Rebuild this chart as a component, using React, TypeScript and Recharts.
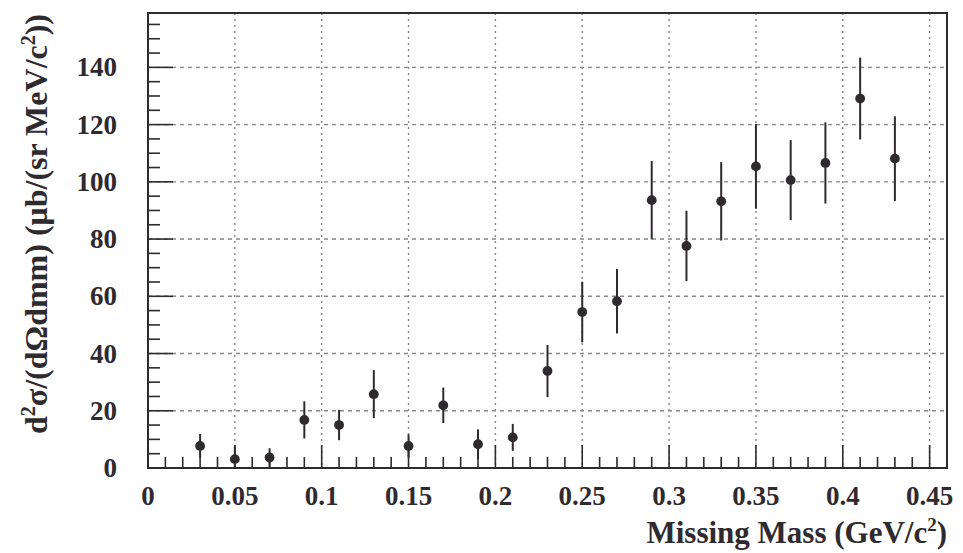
import { ScatterChart, Scatter, XAxis, YAxis, CartesianGrid, ErrorBar, ReferenceArea, Label } from "recharts"

// missing mass bins (GeV/c^2)
const massBins = [0.03, 0.05, 0.07, 0.09, 0.11, 0.13, 0.15, 0.17, 0.19, 0.21, 0.23, 0.25, 0.27, 0.29, 0.31, 0.33, 0.35, 0.37, 0.39, 0.41, 0.43]
// d2sigma/(dOmega dmm), ub/(sr MeV/c^2)
const crossSection = [7.7, 3.1, 3.7, 16.8, 15.0, 25.8, 7.7, 21.9, 8.3, 10.7, 33.9, 54.5, 58.3, 93.6, 77.6, 93.2, 105.4, 100.6, 106.6, 129.1, 108.1]
const crossSectionErr = [4.2, 4.5, 3.2, 6.5, 5.3, 8.4, 4.0, 6.2, 5.2, 4.7, 9.1, 10.6, 11.3, 13.7, 12.3, 13.7, 14.8, 14.0, 14.2, 14.3, 14.8]

const xMajorTicks = [0, 0.05, 0.1, 0.15, 0.2, 0.25, 0.3, 0.35, 0.4, 0.45]
const yMajorTicks = [0, 20, 40, 60, 80, 100, 120, 140]

const xAllTicks = Array.from({ length: 46 }, (_, i) => Number((i * 0.01).toFixed(2)))
const yAllTicks = Array.from({ length: 32 }, (_, i) => i * 5)

const data = massBins.map((x, i) => ({
  x,
  y: crossSection[i],
  err: [Math.min(crossSectionErr[i], crossSection[i]), crossSectionErr[i]],
}))

const ink = "#2e2a2e"
const gridColor = "#8c8290"
const font = "Liberation Serif, Times New Roman, DejaVu Serif, serif"

const isMajor = (v: number, list: number[]) => list.some((m) => Math.abs(m - v) < 1e-6)

const XTick = (props: any) => {
  const { x, y, payload } = props
  const major = isMajor(payload.value, xMajorTicks)
  return (
    <g>
      <line x1={x} x2={x} y1={y} y2={y - (major ? 23 : 11)} stroke={ink} strokeWidth={1.6} />
      {major && (
        <text x={x} y={y + 37} textAnchor="middle" fontFamily={font} fontWeight="bold" fontSize={27} fill={ink}>
          {String(payload.value)}
        </text>
      )}
    </g>
  )
}

const YTick = (props: any) => {
  const { x, y, payload } = props
  const major = isMajor(payload.value, yMajorTicks)
  return (
    <g>
      <line x1={x} x2={x + (major ? 25 : 12)} y1={y} y2={y} stroke={ink} strokeWidth={1.6} />
      {major && (
        <text x={x - 31} y={y + 9} textAnchor="end" fontFamily={font} fontWeight="bold" fontSize={27} fill={ink}>
          {String(payload.value)}
        </text>
      )}
    </g>
  )
}

const XTitle = (props: any) => {
  const vb = props.viewBox
  return (
    <text x={vb.x + vb.width} y={vb.y + 75} textAnchor="end" fontFamily={font} fontWeight="bold" fontSize={31} fill={ink}>
      Missing Mass (GeV/c
      <tspan dy={-12} fontSize={19}>2</tspan>
      <tspan dy={12}>)</tspan>
    </text>
  )
}

const YTitle = () => {
  const cx = 47
  const cy = 224
  return (
    <text
      x={cx}
      y={cy}
      transform={`rotate(-90, ${cx}, ${cy})`}
      textAnchor="middle"
      fontFamily={font}
      fontWeight="bold"
      fontSize={32}
      fill={ink}
    >
      d<tspan dy={-12} fontSize={20}>2</tspan>
      <tspan dy={12}>σ/(dΩdmm) (μb/(sr MeV/c</tspan>
      <tspan dy={-12} fontSize={20}>2</tspan>
      <tspan dy={12}>))</tspan>
    </text>
  )
}

export default function App() {
  return (
    <div style={{ position: "absolute", left: 0, top: 0, width: 963, height: 553, background: "#fff" }}>
      <ScatterChart width={963} height={553} margin={{ top: 13, right: 16, bottom: 0, left: 0 }}>
        <CartesianGrid
          horizontal={false}
          verticalValues={xMajorTicks.slice(1)}
          stroke={gridColor}
          strokeDasharray="2 4"
          strokeWidth={1.4}
        />
        <CartesianGrid
          vertical={false}
          horizontalValues={yMajorTicks.slice(1)}
          stroke={gridColor}
          strokeDasharray="4 4"
          strokeWidth={1.4}
        />
        <XAxis
          type="number"
          dataKey="x"
          domain={[0, 0.46]}
          ticks={xAllTicks}
          interval={0}
          tick={XTick}
          tickLine={false}
          tickSize={0}
          tickMargin={0}
          axisLine={false}
          height={85}
          allowDataOverflow
        >
          <Label content={XTitle} />
        </XAxis>
        <YAxis
          type="number"
          dataKey="y"
          domain={[0, 159]}
          ticks={yAllTicks}
          interval={0}
          tick={YTick}
          tickLine={false}
          tickSize={0}
          tickMargin={0}
          axisLine={false}
          width={148}
          allowDataOverflow
        >
          <Label content={YTitle} />
        </YAxis>
        <ReferenceArea x1={0} x2={0.46} y1={0} y2={159} fill="none" stroke={ink} strokeWidth={2} fillOpacity={0} />
        <Scatter data={data} fill={ink} isAnimationActive={false} shape={(p: any) => <circle cx={p.cx} cy={p.cy} r={4.9} fill={ink} />}>
          <ErrorBar dataKey="err" direction="y" width={0} stroke={ink} strokeWidth={2} />
        </Scatter>
      </ScatterChart>
    </div>
  )
}
